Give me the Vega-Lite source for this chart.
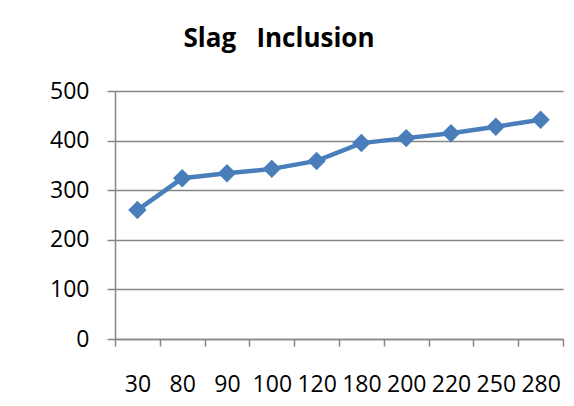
{
  "$schema": "https://vega.github.io/schema/vega-lite/v6.json",
  "autosize": "none",
  "width": 448,
  "height": 248,
  "padding": {"left": 115, "top": 91, "right": 11, "bottom": 67},
  "background": "white",
  "config": {
    "font": "Open Sans",
    "view": {"stroke": null},
    "axis": {"labelFont": "Open Sans", "labelColor": "#000000", "domainColor": "#868686", "tickColor": "#868686", "gridColor": "#868686", "domainWidth": 1.5, "tickWidth": 1.5, "gridWidth": 1.5}
  },
  "title": {
    "text": "Slag\u00a0\u00a0 Inclusion",
    "font": "Open Sans",
    "fontSize": 26,
    "fontWeight": "bold",
    "color": "#000000",
    "anchor": "middle",
    "dx": -60,
    "offset": 28
  },
  "data": {
    "values": [
      {"load": "30", "value": 260},
      {"load": "80", "value": 324},
      {"load": "90", "value": 334},
      {"load": "100", "value": 343},
      {"load": "120", "value": 359},
      {"load": "180", "value": 395},
      {"load": "200", "value": 405},
      {"load": "220", "value": 415},
      {"load": "250", "value": 428},
      {"load": "280", "value": 442}
    ]
  },
  "mark": {"type": "line", "color": "#4a7ebb", "strokeWidth": 4.5, "point": {"shape": "diamond", "size": 340, "filled": true, "color": "#4a7ebb", "opacity": 1}},
  "encoding": {
    "x": {
      "field": "load",
      "type": "ordinal",
      "sort": null,
      "bandPosition": 0.5,
      "scale": {"type": "band", "paddingInner": 0, "paddingOuter": 0},
      "axis": {"title": null, "labelAngle": 0, "labelFontSize": 23, "tickBand": "extent", "tickSize": 7, "labelPadding": 27, "grid": false}
    },
    "y": {
      "field": "value",
      "type": "quantitative",
      "scale": {"domain": [0, 500]},
      "axis": {"title": null, "values": [0, 100, 200, 300, 400, 500], "labelFontSize": 23, "tickSize": 8, "labelPadding": 18, "grid": true, "domain": true}
    }
  }
}
